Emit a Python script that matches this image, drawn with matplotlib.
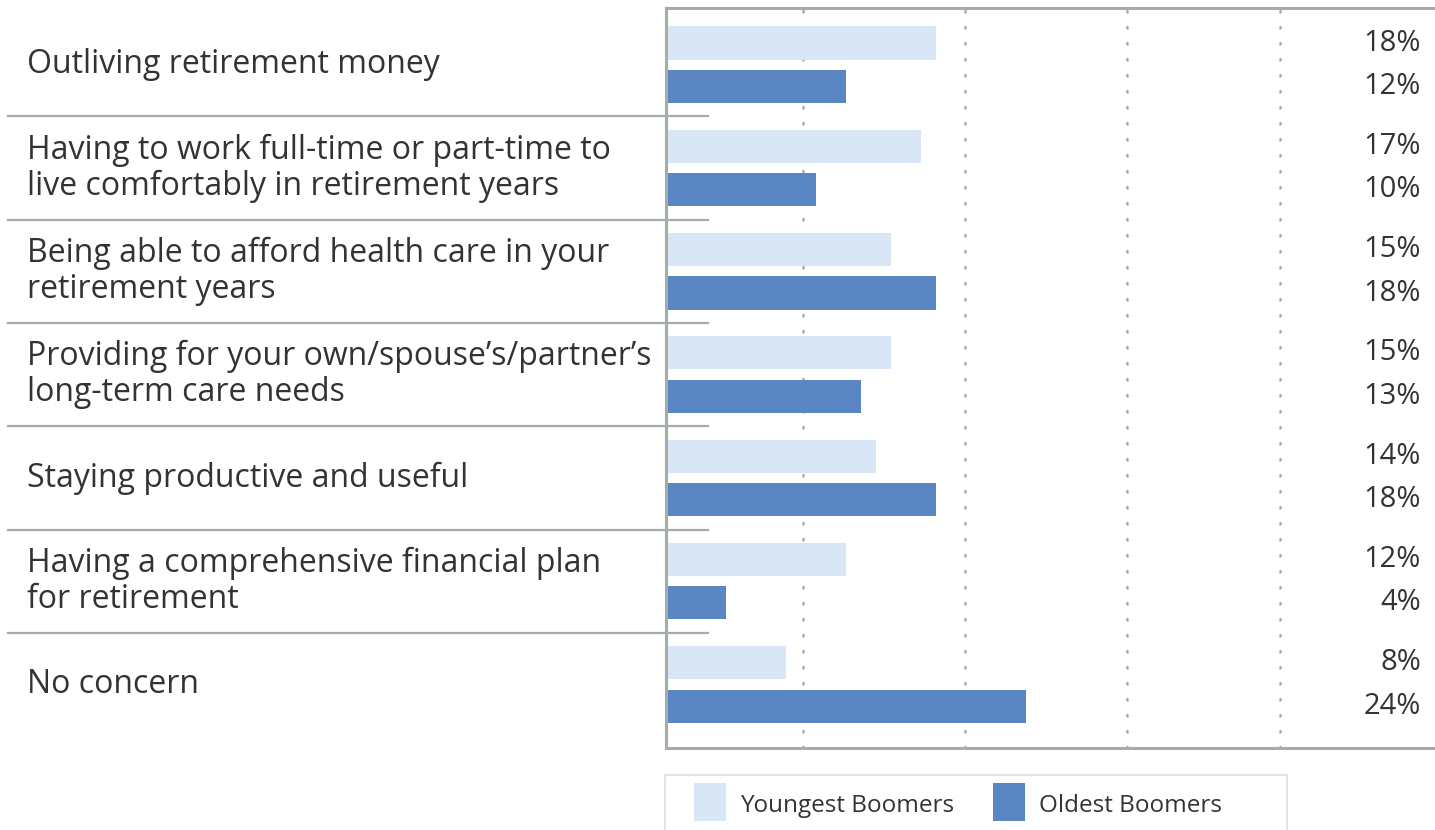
import matplotlib
matplotlib.use("Agg")
import matplotlib.pyplot as plt
from matplotlib.patches import Rectangle
from matplotlib.transforms import blended_transform_factory

plt.rcParams['font.family'] = ['Open Sans', 'DejaVu Sans']

# ── data ──────────────────────────────────────────────────────────────────────
concerns = [
    "Outliving retirement money",
    "Having to work full-time or part-time to\nlive comfortably in retirement years",
    "Being able to afford health care in your\nretirement years",
    "Providing for your own/spouse\u2019s/partner\u2019s\nlong-term care needs",
    "Staying productive and useful",
    "Having a comprehensive financial plan\nfor retirement",
    "No concern",
]
youngest = [18, 17, 15, 15, 14, 12, 8]
oldest = [12, 10, 18, 13, 18, 4, 24]
series_names = ["Youngest Boomers", "Oldest Boomers"]

LIGHT = "#d8e6f5"
DARK = "#5a86c4"
FRAME = "#a2aea6"
TEXT = "#333333"

W, H = 1435, 830
fig = plt.figure(figsize=(W / 100, H / 100), dpi=100)

def px(x0, y0, x1, y1):
    # figure-fraction rect from pixel box (top-left origin)
    return [x0 / W, 1 - y1 / H, (x1 - x0) / W, (y1 - y0) / H]

ax = fig.add_axes(px(666, 8, 1435, 748))
scale = 15.0  # px per percent
ax.set_xlim(0, (1435 - 666) / scale)
ax.set_ylim(6.614, -0.549)

n = len(concerns)
idx = list(range(n))
off = 0.21
bh = 0.32
ax.barh([i - off for i in idx], youngest, height=bh, color=LIGHT, zorder=2)
ax.barh([i + off for i in idx], oldest, height=bh, color=DARK, zorder=2)

# dotted gridlines
for gx in [9.13, 19.9, 30.7, 40.9]:
    ax.axvline(gx, color="#a3aca8", lw=1.8, dashes=(0.6, 5.8),
               dash_capstyle="round", zorder=1)

# frame: left, top, bottom
for side in ["left", "top", "bottom"]:
    ax.spines[side].set_color(FRAME)
    ax.spines[side].set_linewidth(2.2)
ax.spines["right"].set_visible(False)
ax.set_xticks([])
ax.set_yticks([])

# value labels on the right
tr = blended_transform_factory(fig.transFigure, ax.transData)
for i in idx:
    ax.text(1421 / W, i - off, f"{youngest[i]}%", transform=tr, ha="right",
            va="center", fontsize=21, color=TEXT)
    ax.text(1421 / W, i + off, f"{oldest[i]}%", transform=tr, ha="right",
            va="center", fontsize=21, color=TEXT)

# category labels and separators
for i, lab in enumerate(concerns):
    ax.text(27 / W, i, lab, transform=tr, ha="left", va="center",
            fontsize=23, color=TEXT, linespacing=1.12)
for i in idx[:-1]:
    ax.plot([8 / W, 708 / W], [i + 0.5, i + 0.5], transform=tr,
            color=FRAME, lw=1.6, clip_on=False, zorder=3)

# legend box
fig.patches.append(Rectangle((665 / W, 1 - 840 / H), 622 / W, 65 / H,
                             transform=fig.transFigure, facecolor="white",
                             edgecolor="#dfe5e0", lw=1.5))
for x0, col, name in [(694, LIGHT, series_names[0]), (993, DARK, series_names[1])]:
    fig.patches.append(Rectangle((x0 / W, 1 - 821 / H), 32 / W, 38 / H,
                                 transform=fig.transFigure, facecolor=col,
                                 edgecolor="none"))
    fig.text((x0 + 46) / W, 1 - 806 / H, name, ha="left", va="center",
             fontsize=17.5, color=TEXT)

fig.savefig("out.png", dpi=100)
